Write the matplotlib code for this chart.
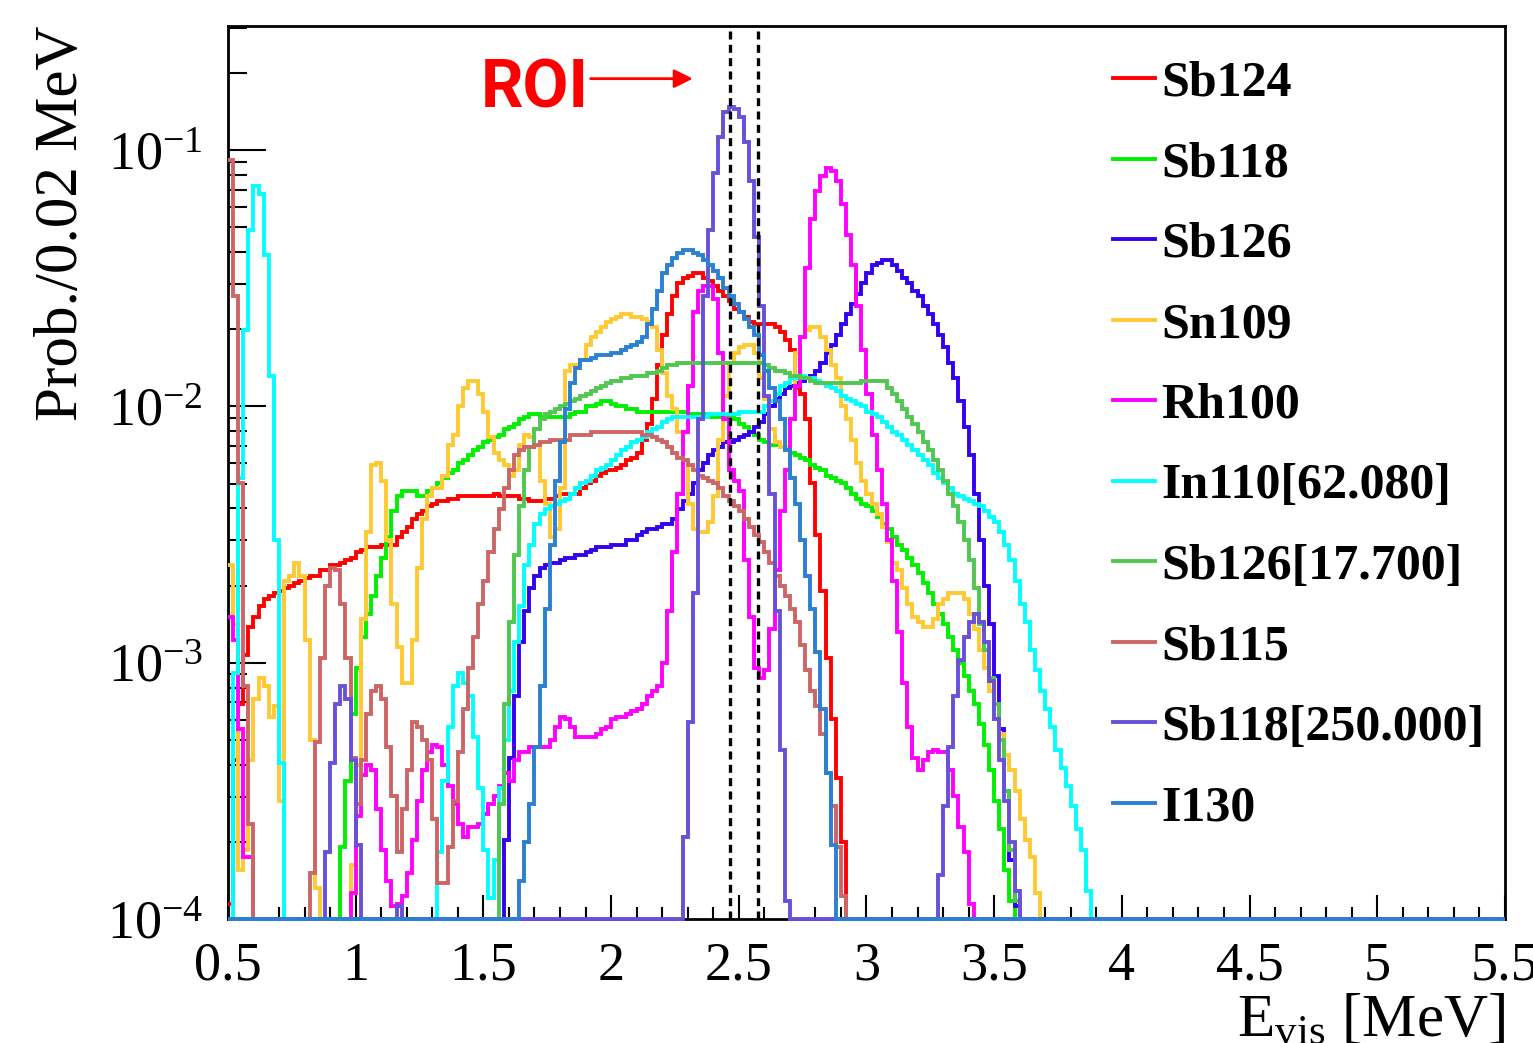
import numpy as np
import matplotlib
matplotlib.use("Agg")
import matplotlib.pyplot as plt
from matplotlib.ticker import MultipleLocator, LogLocator, NullFormatter

plt.rcParams["font.family"] = "serif"
plt.rcParams["font.serif"] = ["Liberation Serif", "DejaVu Serif"]
plt.rcParams["mathtext.fontset"] = "custom"
plt.rcParams["mathtext.rm"] = "Liberation Serif"
plt.rcParams["mathtext.it"] = "Liberation Serif:italic"
plt.rcParams["mathtext.bf"] = "Liberation Serif:bold"

# binning / ranges
bin_width = 0.02
e_min, e_max = 0.5, 5.5
y_min, y_max = 1e-4, 0.305
roi = [2.465, 2.575]

names = ["Sb124", "Sb118", "Sb126", "Sn109", "Rh100", "In110[62.080]",
         "Sb126[17.700]", "Sb115", "Sb118[250.000]", "I130"]
colors = ["#ff0000", "#00f000", "#3300f0", "#ffc933", "#ff00ff", "#00ffff",
          "#50c850", "#cc6666", "#6a50d8", "#2b80d2"]

# log10(prob per 0.02 MeV bin); key = lower edge of the first bin of each run
sb124 = {0.50: [
    -3.94, -3.38, -3.16, -2.97, -2.86, -2.82, -2.78, -2.75, -2.74, -2.73,
    -2.72, -2.71, -2.70, -2.69, -2.68, -2.67, -2.66, -2.66, -2.64, -2.64,
    -2.62, -2.62, -2.61, -2.60, -2.59, -2.57, -2.56, -2.55, -2.55, -2.55,
    -2.54, -2.54, -2.54, -2.51, -2.49, -2.47, -2.44, -2.42, -2.41, -2.39,
    -2.38, -2.37, -2.37, -2.36, -2.36, -2.35, -2.35, -2.35, -2.35, -2.35,
    -2.35, -2.35, -2.34, -2.35, -2.35, -2.35, -2.35, -2.36, -2.36, -2.37,
    -2.37, -2.37, -2.36, -2.36, -2.35, -2.34, -2.34, -2.34, -2.34, -2.32,
    -2.30, -2.29, -2.27, -2.26, -2.25, -2.25, -2.24, -2.23, -2.21, -2.20,
    -2.18, -2.13, -2.07, -1.97, -1.84, -1.72, -1.64, -1.57, -1.52, -1.50,
    -1.49, -1.48, -1.48, -1.50, -1.51, -1.53, -1.55, -1.57, -1.59, -1.62,
    -1.63, -1.65, -1.67, -1.68, -1.68, -1.68, -1.68, -1.69, -1.71, -1.74,
    -1.78, -1.93, -1.95, -2.05, -2.30, -2.50, -2.72, -2.98, -3.22, -3.45,
    -3.70]}

sb118 = {0.94: [
    -3.72, -3.46, -3.20, -3.02, -2.90, -2.81, -2.74, -2.66, -2.59, -2.51,
    -2.41, -2.35, -2.33, -2.33, -2.33, -2.35, -2.35, -2.33, -2.32, -2.30,
    -2.28, -2.26, -2.25, -2.22, -2.21, -2.19, -2.17, -2.16, -2.14, -2.13,
    -2.12, -2.11, -2.09, -2.08, -2.07, -2.05, -2.04, -2.03, -2.03, -2.04,
    -2.04, -2.04, -2.04, -2.04, -2.04, -2.03, -2.02, -2.02, -2.00, -2.00,
    -1.99, -1.98, -1.98, -1.99, -2.00, -2.00, -2.01, -2.01, -2.02, -2.02,
    -2.02, -2.02, -2.02, -2.02, -2.02, -2.02, -2.02, -2.02, -2.03, -2.03,
    -2.03, -2.03, -2.04, -2.04, -2.04, -2.04, -2.04, -2.05, -2.07, -2.08,
    -2.10, -2.11, -2.13, -2.14, -2.15, -2.15, -2.16, -2.17, -2.18, -2.19,
    -2.20, -2.21, -2.23, -2.24, -2.25, -2.27, -2.28, -2.29, -2.30, -2.32,
    -2.34, -2.36, -2.38, -2.39, -2.41, -2.43, -2.46, -2.48, -2.51, -2.54,
    -2.56, -2.59, -2.62, -2.65, -2.69, -2.73, -2.77, -2.81, -2.85, -2.90,
    -2.95, -3.00, -3.05, -3.11, -3.16, -3.24, -3.32, -3.42, -3.54, -3.65,
    -3.81, -3.93]}

sb126 = {1.58: [
    -3.69, -3.37, -3.13, -2.92, -2.80, -2.71, -2.66, -2.63, -2.62, -2.61,
    -2.61, -2.60, -2.59, -2.59, -2.58, -2.58, -2.57, -2.56, -2.55, -2.55,
    -2.55, -2.54, -2.54, -2.54, -2.52, -2.52, -2.50, -2.49, -2.48, -2.48,
    -2.47, -2.46, -2.46, -2.44, -2.40, -2.37, -2.34, -2.30, -2.25, -2.22,
    -2.19, -2.17, -2.16, -2.14, -2.14, -2.13, -2.12, -2.11, -2.10, -2.08,
    -2.06, -2.03, -2.00, -1.97, -1.95, -1.93, -1.92, -1.91, -1.90, -1.89,
    -1.88, -1.86, -1.83, -1.79, -1.76, -1.72, -1.68, -1.64, -1.60, -1.56,
    -1.52, -1.48, -1.45, -1.44, -1.43, -1.43, -1.45, -1.47, -1.50, -1.52,
    -1.55, -1.57, -1.61, -1.64, -1.68, -1.72, -1.77, -1.83, -1.89, -1.98,
    -2.08, -2.19, -2.34, -2.52, -2.70, -2.85, -3.05, -3.26, -3.50, -3.77,
    -3.95]}

sn109 = {0.50: [
    -2.62, -2.85, -3.81, -3.73, -3.38, -3.14, -3.06, -3.09, -3.21, -3.17,
    -3.54, -2.68, -2.66, -2.61, -2.66, -2.91, -3.30, -3.88],
    0.98: [
    -3.79, -3.40, -2.83, -2.49, -2.23, -2.22,
    -2.29, -2.52, -2.77, -2.94, -3.08, -3.08, -2.91, -2.63, -2.44, -2.35,
    -2.32, -2.32, -2.27, -2.15, -2.11, -2.00, -1.93, -1.90, -1.90, -1.95,
    -2.02, -2.12, -2.18, -2.21, -2.23, -2.27, -2.25, -2.15, -2.11, -2.12,
    -2.15, -2.29, -2.38, -2.51, -2.48, -2.32, -1.86, -1.84, -1.84, -1.82,
    -1.76, -1.73, -1.71, -1.69, -1.67, -1.66, -1.65, -1.64, -1.64, -1.65,
    -1.65, -1.66, -1.67, -1.69, -1.78, -1.87, -1.96, -2.01, -2.10, -2.21,
    -2.38, -2.48, -2.49, -2.49, -2.45, -2.35, -2.13, -1.96, -1.83, -1.79,
    -1.77, -1.76, -1.76, -1.79, -1.89, -1.97, -2.09, -2.14, -2.16, -2.16,
    -2.05, -1.79, -1.73, -1.70, -1.69, -1.69, -1.73, -1.78, -1.84, -1.89,
    -2.00, -2.05, -2.13, -2.22, -2.29, -2.34, -2.38, -2.42, -2.47, -2.53,
    -2.61, -2.64, -2.71, -2.77, -2.82, -2.84, -2.86, -2.86, -2.83, -2.77,
    -2.75, -2.73, -2.73, -2.73, -2.75, -2.81, -2.87, -2.95, -3.02, -3.11,
    -3.22, -3.28, -3.36, -3.42, -3.50, -3.61, -3.69, -3.76, -3.90]}

rh100 = {0.50: [-2.82, -2.91, -3.26, -3.76, -3.76],
    0.98: [
    -3.90, -3.60, -3.44, -3.40, -3.42, -3.57, -3.73, -3.85, -3.95, -3.94,
    -3.91, -3.82, -3.69, -3.54, -3.42, -3.35, -3.32, -3.33, -3.40, -3.48,
    -3.55, -3.63, -3.68, -3.64, -3.64, -3.63, -3.59, -3.55, -3.52, -3.48,
    -3.43, -3.46, -3.38, -3.35, -3.35, -3.33, -3.33, -3.33, -3.33, -3.30,
    -3.25, -3.21, -3.22, -3.25, -3.29, -3.29, -3.29, -3.29, -3.28, -3.26,
    -3.25, -3.22, -3.21, -3.21, -3.20, -3.19, -3.18, -3.16, -3.13, -3.11,
    -3.09, -3.00, -2.80, -2.57, -2.34, -2.10, -1.92, -1.63, -1.55, -1.53,
    -1.53, -1.58, -1.79, -2.05, -2.25, -2.29, -2.33, -2.60, -2.82, -3.02,
    -3.06, -3.03, -2.87, -2.64, -2.41, -2.25, -2.05, -1.92, -1.73, -1.46,
    -1.27, -1.16, -1.10, -1.07, -1.08, -1.12, -1.21, -1.33, -1.45, -1.61,
    -1.78, -1.95, -2.11, -2.25, -2.38, -2.52, -2.68, -2.88, -3.08, -3.25,
    -3.37, -3.42, -3.38, -3.35, -3.34, -3.35, -3.35, -3.42, -3.52, -3.64,
    -3.74, -3.94]}

in110 = {0.52: [-3.04, -2.28, -1.70, -1.31, -1.14, -1.17, -1.41, -1.88, -2.52, -3.39],
    1.32: [
    -3.74, -3.46, -3.25, -3.09, -3.04, -3.08, -3.13, -3.29, -3.49, -3.73,
    -3.92, -3.77, -3.49, -3.30, -3.11, -2.92, -2.78, -2.62, -2.54, -2.46,
    -2.42, -2.40, -2.39, -2.38, -2.37, -2.36, -2.34, -2.32, -2.30, -2.29,
    -2.27, -2.25, -2.24, -2.23, -2.21, -2.19, -2.17, -2.16, -2.14, -2.13,
    -2.12, -2.10, -2.09, -2.08, -2.06, -2.05, -2.04, -2.04, -2.04, -2.04,
    -2.04, -2.04, -2.04, -2.03, -2.03, -2.03, -2.03, -2.03, -2.03, -2.02,
    -2.02, -2.02, -2.02, -2.02, -2.00, -1.98, -1.95, -1.92, -1.91, -1.89,
    -1.89, -1.88, -1.89, -1.89, -1.90, -1.91, -1.92, -1.93, -1.94, -1.96,
    -1.97, -1.98, -1.99, -2.00, -2.02, -2.03, -2.04, -2.06, -2.08, -2.10,
    -2.11, -2.13, -2.15, -2.17, -2.19, -2.21, -2.23, -2.26, -2.28, -2.30,
    -2.32, -2.34, -2.35, -2.36, -2.37, -2.38, -2.39, -2.41, -2.43, -2.45,
    -2.49, -2.54, -2.60, -2.68, -2.77, -2.84, -2.95, -3.03, -3.11, -3.18,
    -3.25, -3.34, -3.41, -3.48, -3.56, -3.65, -3.73, -3.89]}

sb126m = {1.56: [
    -3.55, -3.16, -2.84, -2.58, -2.39, -2.25, -2.16, -2.09, -2.05, -2.03,
    -2.02, -2.01, -2.00, -1.99, -1.98, -1.97, -1.96, -1.95, -1.94, -1.93,
    -1.92, -1.91, -1.90, -1.90, -1.89, -1.89, -1.88, -1.88, -1.88, -1.87,
    -1.87, -1.86, -1.85, -1.84, -1.84, -1.83, -1.83, -1.83, -1.83, -1.83,
    -1.83, -1.83, -1.83, -1.83, -1.83, -1.83, -1.83, -1.83, -1.83, -1.83,
    -1.83, -1.83, -1.84, -1.85, -1.86, -1.86, -1.87, -1.88, -1.88, -1.89,
    -1.89, -1.90, -1.91, -1.91, -1.91, -1.91, -1.91, -1.91, -1.91, -1.91,
    -1.91, -1.90, -1.90, -1.90, -1.90, -1.90, -1.93, -1.95, -1.98, -2.01,
    -2.04, -2.07, -2.10, -2.14, -2.17, -2.21, -2.25, -2.29, -2.34, -2.39,
    -2.45, -2.52, -2.60, -2.71, -2.85, -2.95, -3.06, -3.16, -3.30, -3.50,
    -3.73, -3.93]}

sb115 = {0.50: [-1.04, -1.57, -2.30, -3.09, -3.63],
    0.82: [
    -3.82, -3.31, -2.98, -2.70, -2.63, -2.64, -2.77, -2.98, -3.37, -3.55,
    -3.38, -3.20, -3.11, -3.09, -3.14, -3.33, -3.52, -3.74, -3.57, -3.42,
    -3.23, -3.25, -3.30, -3.38, -3.61, -3.86, -3.86, -3.72, -3.54, -3.35,
    -3.18, -3.02, -2.90, -2.77, -2.68, -2.57, -2.48, -2.40, -2.32, -2.25,
    -2.19, -2.17, -2.16, -2.16, -2.15, -2.14, -2.14, -2.13, -2.13, -2.13,
    -2.13, -2.11, -2.11, -2.11, -2.11, -2.10, -2.10, -2.10, -2.10, -2.10,
    -2.10, -2.10, -2.10, -2.10, -2.10, -2.11, -2.11, -2.12, -2.13, -2.14,
    -2.16, -2.18, -2.20, -2.21, -2.23, -2.25, -2.27, -2.28, -2.29, -2.30,
    -2.32, -2.35, -2.37, -2.39, -2.41, -2.44, -2.47, -2.50, -2.53, -2.57,
    -2.61, -2.66, -2.70, -2.74, -2.79, -2.84, -2.93, -3.03, -3.11, -3.17,
    -3.28, -3.43, -3.56, -3.72, -3.91]}

sb118m = {0.88: [-3.74, -3.39, -3.16, -3.09, -3.14, -3.38, -3.71],
    1.16: [-3.95],
    2.28: [-3.68, -3.23, -2.73, -2.05, -1.57, -1.31, -1.09, -0.95, -0.85, -0.83,
           -0.84, -0.87, -0.97, -1.12, -1.34, -1.61, -1.96, -2.34, -2.80, -3.34,
           -3.93],
    3.28: [-3.83, -3.56, -3.33, -3.13, -2.99, -2.90, -2.84, -2.81, -2.84, -2.92,
           -3.07, -3.22, -3.38, -3.54, -3.70, -3.89]}

i130 = {1.64: [
    -3.85, -3.70, -3.55, -3.33, -3.09, -2.79, -2.54, -2.29, -2.14, -2.01,
    -1.91, -1.85, -1.82, -1.82, -1.81, -1.80, -1.80, -1.80, -1.79, -1.79,
    -1.78, -1.77, -1.76, -1.75, -1.73, -1.68, -1.62, -1.55, -1.48, -1.45,
    -1.42, -1.40, -1.39, -1.39, -1.40, -1.41, -1.43, -1.45, -1.47, -1.50,
    -1.54, -1.57, -1.60, -1.63, -1.66, -1.69, -1.72, -1.80, -1.86, -1.93,
    -1.98, -2.05, -2.17, -2.28, -2.38, -2.52, -2.66, -2.79, -2.96, -3.18,
    -3.43, -3.71]}

series = [sb124, sb118, sb126, sn109, rh100, in110, sb126m, sb115, sb118m, i130]

edges = np.round(np.arange(e_min, e_max + bin_width / 2, bin_width), 2)
n_bins = len(edges) - 1


def to_hist(runs):
    h = np.zeros(n_bins)
    for start, logs in runs.items():
        i0 = int(round((start - e_min) / bin_width))
        h[i0:i0 + len(logs)] = 10.0 ** np.array(logs)
    return h


fig = plt.figure(figsize=(15.33, 10.43), dpi=100)
ax = fig.add_axes([0.1487, 0.1189, 0.833, 0.8562])

for runs, name, c in zip(series, names, colors):
    h = np.clip(to_hist(runs), y_min, None)  # empty bins sit on the frame, ROOT style
    ax.stairs(h, edges, baseline=None, color=c, lw=2.8, label=name,
              zorder=3, clip_on=False)

for e in roi:
    ax.axvline(e, color="black", lw=2.4, ls=(0, (2.4, 1.6)), zorder=4)

ax.set_yscale("log")
ax.set_xlim(e_min, e_max)
ax.set_ylim(y_min, y_max)

xt = np.arange(0.5, 5.51, 0.5)
ax.set_xticks(xt)
ax.set_xticklabels([f"{t:g}" for t in xt])
ax.xaxis.set_minor_locator(MultipleLocator(0.1))
ax.yaxis.set_major_locator(LogLocator(base=10, numticks=10))
ax.yaxis.set_minor_locator(LogLocator(base=10, subs=np.arange(2, 10), numticks=20))
ax.yaxis.set_minor_formatter(NullFormatter())

ax.tick_params(which="both", direction="in", top=False, right=False, width=1.5)
ax.tick_params(axis="y", which="major", length=27, pad=18, labelsize=39)
ax.tick_params(axis="y", which="minor", length=14)
ax.tick_params(axis="x", which="major", length=17, pad=16, labelsize=39)
ax.tick_params(axis="x", which="minor", length=9)
for s in ax.spines.values():
    s.set_linewidth(2.0)

ax.set_xlabel(r"$\mathrm{E_{vis}}$ [MeV]", fontsize=44, loc="right")
ax.xaxis.set_label_coords(1.0, -0.083)
ax.set_ylabel("Prob./0.02 MeV", fontsize=44, loc="top")
ax.yaxis.set_label_coords(-0.108, 1.0)

ax.text(1.49, 0.147, "ROI", color="red", fontsize=48, fontweight="bold",
        family="Roboto", va="baseline", ha="left")
ax.annotate("", xy=(2.32, 0.19), xytext=(1.92, 0.19),
            arrowprops=dict(arrowstyle="-|>", color="red", lw=2,
                            mutation_scale=28, shrinkA=0, shrinkB=0))

ax.legend(loc="upper left", bbox_to_anchor=(0.693, 0.961), frameon=False,
          prop=dict(family="serif", weight="bold", size=36),
          handlelength=0.84, handletextpad=0.12, labelspacing=0.69,
          borderpad=0, borderaxespad=0)

fig.savefig("out.png", dpi=100)
